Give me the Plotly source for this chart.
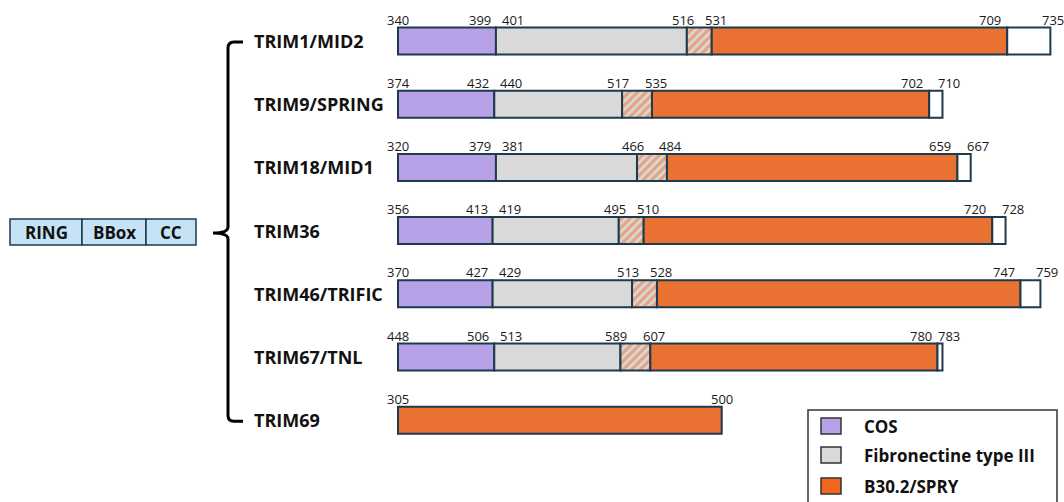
import plotly.graph_objects as go

W, H = 1064, 502

names = ["TRIM1/MID2", "TRIM9/SPRING", "TRIM18/MID1", "TRIM36", "TRIM46/TRIFIC", "TRIM67/TNL", "TRIM69"]
cos_start = [340, 374, 320, 356, 370, 448, None]
cos_end = [399, 432, 379, 413, 427, 506, None]
fn_start = [401, 440, 381, 419, 429, 513, None]
fn_end = [516, 517, 466, 495, 513, 589, None]
spry_start = [531, 535, 484, 510, 528, 607, 305]
spry_end = [709, 702, 659, 720, 747, 780, 500]
prot_end = [735, 710, 667, 728, 759, 783, 500]

core_domains = ["RING", "BBox", "CC"]
legend_labels = ["COS", "Fibronectine type III", "B30.2/SPRY"]

C_COS = "#b7a2e8"
C_FN = "#d9d9d9"
C_SPRY = "#e97132"
C_SPRY_LEG = "#f2661c"
C_EDGE = "#1e3a4c"

# layout geometry (pixels)
S = 1.66          # px per residue
X0 = 398          # px where every protein drawing starts
ROW0, DROW = 41, 63.2
BAR_H = 27

def px2u(px):
    return (px - X0) / S

def py2i(py):
    return (py - ROW0) / DROW

n = len(names)
rows = list(range(n))

# segment widths / bases
cos_w, fn_w, hat_w, spry_w, tail_w = [], [], [], [], []
cos_b, fn_b, hat_b, spry_b, tail_b = [], [], [], [], []
for i in rows:
    if cos_start[i] is not None:
        cw = cos_end[i] - cos_start[i]
        fw = fn_end[i] - fn_start[i]
        hw = spry_start[i] - fn_end[i]
    else:
        cw = fw = hw = 0
    sw = spry_end[i] - spry_start[i]
    tw = prot_end[i] - spry_end[i]
    cos_b.append(0); cos_w.append(cw)
    fn_b.append(cw); fn_w.append(fw)
    hat_b.append(cw + fw); hat_w.append(hw)
    spry_b.append(cw + fw + hw); spry_w.append(sw)
    tail_b.append(cw + fw + hw + sw); tail_w.append(tw)

fig = go.Figure()
bw = BAR_H / DROW
line = dict(color=C_EDGE, width=2)

def add_seg(widths, bases, color, pattern=None):
    ys = [r for r in rows if widths[r] > 0]
    mk = dict(color=color, line=line)
    if pattern:
        mk["pattern"] = pattern
    fig.add_trace(go.Bar(
        orientation="h",
        y=ys,
        x=[widths[r] for r in ys],
        base=[bases[r] for r in ys],
        width=bw,
        marker=mk,
        showlegend=False,
        hoverinfo="skip",
    ))

add_seg(cos_w, cos_b, C_COS)
add_seg(fn_w, fn_b, C_FN)
add_seg(hat_w, hat_b, C_FN, pattern=dict(shape="/", fgcolor="#f0702c", bgcolor=C_FN, size=6, solidity=0.55))
add_seg(spry_w, spry_b, C_SPRY)
add_seg(tail_w, tail_b, "#ffffff")

ann = []
num_font = dict(family="Open Sans", size=13, color="#1a1a1a")
YSH = BAR_H / 2 + 8

def num(x, r, txt, anchor, shift):
    ann.append(dict(x=x, y=r, xref="x", yref="y", text=str(txt), showarrow=False,
                    xanchor=anchor, yanchor="middle", xshift=shift, yshift=YSH, font=num_font))

for r in rows:
    if cos_start[r] is not None:
        num(0, r, cos_start[r], "center", 0)
        num(fn_b[r], r, cos_end[r], "right", -3)
        num(fn_b[r], r, fn_start[r], "left", 4)
        num(hat_b[r], r, fn_end[r], "center", -4)
        num(spry_b[r], r, spry_start[r], "center", 4)
        num(tail_b[r], r, spry_end[r], "right", -4)
        end_u = tail_b[r] + tail_w[r]
        end_px = X0 + S * end_u
        sh = -6
        if end_px + sh + 24 > W:
            sh = W - 24 - end_px
        num(end_u, r, prot_end[r], "left", sh)
    else:
        num(0, r, spry_start[r], "center", 0)
        num(tail_b[r] + tail_w[r], r, prot_end[r], "center", 0)
    ann.append(dict(x=252 / W, y=r, xref="paper", yref="y", text="<b>%s</b>" % names[r], showarrow=False,
                    xanchor="left", yanchor="middle", font=dict(family="Open Sans", size=18, color="#111111")))

shapes = []
def P(x, y):
    return x / W, 1 - y / H

# core domain boxes
box_x = [10, 82, 146, 196]
for k, lab in enumerate(core_domains):
    x0, y0 = P(box_x[k], 219)
    x1, y1 = P(box_x[k + 1], 245)
    shapes.append(dict(type="rect", xref="paper", yref="paper", x0=x0, x1=x1, y0=y1, y1=y0,
                       fillcolor="#c5e3f4", line=dict(color=C_EDGE, width=1.5)))
    ann.append(dict(x=(x0 + x1) / 2, y=(y0 + y1) / 2, xref="paper", yref="paper", text="<b>%s</b>" % lab,
                    showarrow=False, xanchor="center", yanchor="middle",
                    font=dict(family="Open Sans", size=17, color="#111111")))

# brace (paper-pixel path)
def pp(x, y):
    a, b = P(x, y)
    return "%.5f,%.5f" % (a, b)

top_y = ROW0 + 1
bot_y = ROW0 + DROW * (n - 1) + 1
mid_y = 233
bx = 228
path = ("M %s L %s Q %s %s L %s Q %s %s L %s M %s Q %s %s L %s Q %s %s L %s" % (
    pp(243, top_y), pp(bx + 6, top_y), pp(bx, top_y), pp(bx, top_y + 6),
    pp(bx, mid_y - 6), pp(bx, mid_y), pp(bx - 15, mid_y), pp(bx - 15, mid_y),
    pp(bx - 15, mid_y), pp(bx, mid_y), pp(bx, mid_y + 6),
    pp(bx, bot_y - 6), pp(bx, bot_y), pp(bx + 6, bot_y), pp(243, bot_y)))
shapes.append(dict(type="path", xref="paper", yref="paper", path=path,
                   line=dict(color="#000000", width=3)))

# legend box
lx0, ly0 = P(808, 410)
lx1, ly1 = P(1057, 510)
shapes.append(dict(type="rect", xref="paper", yref="paper", x0=lx0, x1=lx1, y0=ly1, y1=ly0,
                   fillcolor="#ffffff", line=dict(color="#333333", width=1.5), layer="above"))
leg_cols = [C_COS, C_FN, C_SPRY_LEG]
leg_y = [426, 455, 486]
for k, lab in enumerate(legend_labels):
    sx0, sy0 = P(821, leg_y[k] - 8)
    sx1, sy1 = P(841, leg_y[k] + 8)
    shapes.append(dict(type="rect", xref="paper", yref="paper", x0=sx0, x1=sx1, y0=sy1, y1=sy0,
                       fillcolor=leg_cols[k], line=dict(color="#333333", width=1.5), layer="above"))
    ax, ay = P(862, leg_y[k])
    ann.append(dict(x=ax, y=ay, xref="paper", yref="paper", text="<b>%s</b>" % lab, showarrow=False,
                    xanchor="left", yanchor="middle", font=dict(family="Open Sans", size=17, color="#111111")))

fig.update_layout(
    width=W, height=H,
    margin=dict(l=0, r=0, t=0, b=0),
    paper_bgcolor="#ffffff", plot_bgcolor="#ffffff",
    barmode="overlay",
    xaxis=dict(range=[px2u(0), px2u(W)], visible=False, fixedrange=True),
    yaxis=dict(range=[py2i(H), py2i(0)], visible=False, fixedrange=True),
    shapes=shapes,
    annotations=ann,
    showlegend=False,
)

fig.write_html("out.html", config={"displayModeBar": False},
               post_script="document.body.style.margin='0';document.body.style.overflow='hidden';")
